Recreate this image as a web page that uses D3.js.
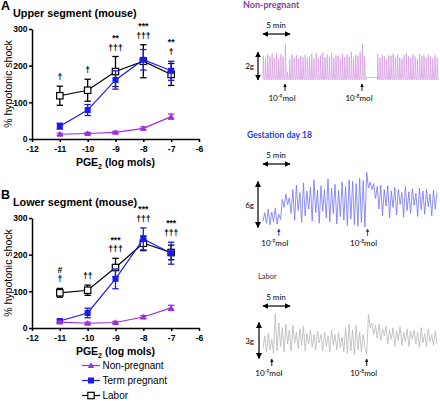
<!DOCTYPE html>
<html><head><meta charset="utf-8">
<script src="https://cdn.jsdelivr.net/npm/d3@7"></script>
<style>body{margin:0;background:#fff}svg{display:block}</style>
</head><body>
<script>
// ---------- data: dose-response ----------
const doses = [-11,-10,-9,-8,-7];
const xTicks = [-12,-11,-10,-9,-8,-7,-6];
const yTicks = [0,100,200,300];
const seriesNames = ["Non-pregnant","Term pregnant","Labor"];

const upperNonPreg    = [13,15,18,29,61];
const upperNonPregErr = [3,3,3,4,7];
const upperTerm       = [35,79,161,216,186];
const upperTermErr    = [8,15,25,28,26];
const upperLabor      = [118,133,184,212,176];
const upperLaborErr   = [26,30,41,45,30];
const upperStars      = ["","","**","***","**"];
const upperDaggers    = ["†","†","†††","†††","†"];

const lowerNonPreg    = [16,13,15,30,55];
const lowerNonPregErr = [3,3,3,4,7];
const lowerTerm       = [19,41,134,243,204];
const lowerTermErr    = [5,13,27,30,30];
const lowerLabor      = [96,103,165,231,206];
const lowerLaborErr   = [12,14,25,20,20];
const lowerStars      = ["#","","***","***","***"];
const lowerDaggers    = ["†","††","†††","†††","†††"];

// ---------- data: tension traces (grams) ----------
const npPeaks = [1.75,1.6,1.85,1.7,1.9,1.6,1.95,1.55,1.85,1.7,
  2.65,0.55,
  1.5,1.85,1.6,1.8,1.55,1.75,1.65,1.8,1.6,1.7,1.9,1.55,1.95,1.6,1.8,2.0,1.65,1.85,1.7,1.95,1.6,1.8,1.75,1.55,1.9,1.65,1.85,1.7,2.05,1.6,1.85,1.75,2.0,
  2.65,1.7,
  null,null,null,null,null,
  1.9,
  1.6,1.85,1.7,1.5,1.8,1.75,1.9,1.6,1.85,1.65,1.55,1.8,1.95,1.7,1.6,1.85,1.7,1.55,1.9,1.75,1.8,1.6,1.85,1.7,1.55,1.8,1.6];
const npDoseSlots = [10,45];
const npDoseLabels = ["-9","-8"];

const gestTrace = [0.8,1.9,0.5,2.4,0.3,2.0,0.7,2.5,0.4,1.7,
  1.0,3.7,2.6,4.4,3.0,3.9,
  1.8,5.0,0.9,5.6,2.2,4.6,0.6,5.9,1.5,4.8,2.4,5.3,0.8,6.3,1.9,4.9,0.5,5.5,2.1,5.0,1.2,6.4,0.7,5.2,1.8,5.7,0.4,4.9,1.4,6.0,0.9,5.4,0.2,6.3,1.1,6.1,0.3,5.8,0.1,6.5,0.6,6.2,0.0,7.3,
  5.2,6.0,5.0,5.8,3.8,5.4,2.4,5.6,1.5,5.0,2.8,5.5,1.2,4.8,2.6,5.3,1.6,5.0,3.0,4.6,1.3,5.4,2.2,4.7,1.8,5.1,2.9,4.5,1.4,5.2,2.3,4.8,1.7,5.0,2.7,4.4,1.5,4.9,2.4,4.6];
const gestDoseIdx = [9,59.5];
const gestDoseLabels = ["-9","-8"];

const laborTrace = [0.8,1.9,0.5,2.1,0.7,1.6,0.4,3.8,0.6,3.0,1.0,2.6,0.5,2.9,1.2,2.4,0.6,2.8,1.3,2.2,
  0.8,2.5,1.1,2.7,0.6,2.1,1.2,2.4,0.9,2.0,0.7,2.3,1.3,2.0,0.6,2.2,1.0,1.9,0.5,2.4,
  1.1,2.0,0.7,2.2,0.9,1.8,0.5,2.6,0.4,2.9,0.6,2.4,0.3,2.8,0.7,2.2,0.5,2.0,0.9,
  0.3,3.7,
  2.6,3.0,2.0,2.8,1.7,2.9,1.5,2.5,1.9,2.7,1.2,2.4,1.6,2.6,1.0,2.3,1.5,2.7,1.1,2.2,
  1.4,2.5,1.0,2.3,1.6,2.4,1.2,2.2,0.9,2.6,1.3,2.1,1.0,2.5,1.4,2.0,1.1,2.3,1.2];
const laborDoseIdx = [5,59];
const laborDoseLabels = ["-9","-8"];

// ---------- drawing ----------
const W=440,H=401;
const LF = "'Liberation Sans', Arial, sans-serif";
const svg = d3.select("body").append("svg").attr("width",W).attr("height",H)
  .attr("font-family",LF);
const colors = {np:"#9a2fe0", term:"#1a1af0", labor:"#000"};
const x = d3.scaleLinear().domain([-12,-6]).range([32,199]);

function sym(g, type, cx, cy, color){
  if(type==="tri"){
    g.append("path").attr("d",`M${cx},${cy-3.2}L${cx+3.2},${cy+2.4}L${cx-3.2},${cy+2.4}Z`).attr("fill",color);
  } else if(type==="sq"){
    g.append("rect").attr("x",cx-3).attr("y",cy-3).attr("width",6).attr("height",6).attr("fill",color);
  } else {
    g.append("rect").attr("x",cx-3.2).attr("y",cy-3.2).attr("width",6.4).attr("height",6.4)
      .attr("fill","#fff").attr("stroke",color).attr("stroke-width",1.2);
  }
}

function panel(cfg){
  const y = d3.scaleLinear().domain([0,300]).range([cfg.y0, cfg.y0-110]);
  const g = svg.append("g");
  g.append("text").attr("x",1).attr("y",cfg.y0-129).text(cfg.letter)
    .attr("font-size",12.5).attr("font-weight","bold");
  g.append("text").attr("x",13).attr("y",cfg.y0-122).text(cfg.title)
    .attr("font-size",10.8).attr("font-weight","bold");
  const xa = g.append("g").attr("transform",`translate(0,${cfg.y0})`)
    .call(d3.axisBottom(x).tickValues(xTicks).tickSize(3).tickPadding(3.5).tickSizeOuter(0).tickFormat(d=>String(d)));
  const ya = g.append("g").attr("transform",`translate(${x(-12)},0)`)
    .call(d3.axisLeft(y).tickValues(yTicks).tickSize(3).tickPadding(1.5).tickSizeOuter(0).tickFormat(d=>String(d)));
  [xa,ya].forEach(a=>{
    a.select(".domain").attr("stroke","#000").attr("stroke-width",1.5);
    a.selectAll(".tick line").attr("stroke","#000").attr("stroke-width",1.5);
    a.selectAll("text").attr("font-size",8.6).attr("font-weight","bold").attr("fill","#000")
      .attr("font-family",LF);
  });
  g.append("text").attr("transform",`translate(12,${cfg.y0-55}) rotate(-90)`)
    .attr("text-anchor","middle").attr("font-size",10.5).text("% hypotonic shock");
  const xl = g.append("text").attr("x",(x(-12)+x(-6))/2).attr("y",cfg.y0+27)
    .attr("text-anchor","middle").attr("font-size",10.5).attr("font-weight","bold");
  xl.append("tspan").text("PGE");
  xl.append("tspan").text("2").attr("font-size",7).attr("dy",2.5);
  xl.append("tspan").text(" (log mols)").attr("dy",-2.5);

  const line = d3.line().x((d,i)=>x(doses[i])).y(d=>y(d));
  cfg.series.forEach(s=>{
    const sg = g.append("g");
    sg.append("path").attr("d",line(s.v)).attr("fill","none").attr("stroke",s.c).attr("stroke-width",1.2);
    s.v.forEach((v,i)=>{
      const cx=x(doses[i]), t=y(v+s.e[i]), b=y(Math.max(0,v-s.e[i]));
      sg.append("line").attr("x1",cx).attr("x2",cx).attr("y1",t).attr("y2",b).attr("stroke",s.c).attr("stroke-width",1.3);
      [t,b].forEach(yy=>sg.append("line").attr("x1",cx-3.2).attr("x2",cx+3.2).attr("y1",yy).attr("y2",yy).attr("stroke",s.c).attr("stroke-width",1.3));
    });
    s.v.forEach((v,i)=>sym(sg,s.m,x(doses[i]),y(v),s.c));
  });
  // significance marks: stars line above dagger line
  const fs = 8.6;
  doses.forEach((d,i)=>{
    const top = d3.max(cfg.series, s=>s.v[i]+s.e[i]);
    const base = y(top)-6;
    g.append("text").attr("x",x(d)).attr("y",base).attr("text-anchor","middle")
      .attr("font-size",fs).attr("font-weight","bold").attr("fill","#000").text(cfg.daggers[i]);
    if(cfg.stars[i]){
      g.append("text").attr("x",x(d)).attr("y",base-9.8).attr("text-anchor","middle")
        .attr("font-size",fs).attr("font-weight","bold").attr("fill","#000").text(cfg.stars[i]);
    }
  });
}

panel({y0:139, letter:"A", title:"Upper segment (mouse)", stars:upperStars, daggers:upperDaggers,
  series:[
    {v:upperLabor,e:upperLaborErr,c:colors.labor,m:"open"},
    {v:upperTerm,e:upperTermErr,c:colors.term,m:"sq"},
    {v:upperNonPreg,e:upperNonPregErr,c:colors.np,m:"tri"}]});
panel({y0:328, letter:"B", title:"Lower segment (mouse)", stars:lowerStars, daggers:lowerDaggers,
  series:[
    {v:lowerLabor,e:lowerLaborErr,c:colors.labor,m:"open"},
    {v:lowerTerm,e:lowerTermErr,c:colors.term,m:"sq"},
    {v:lowerNonPreg,e:lowerNonPregErr,c:colors.np,m:"tri"}]});

// legend
const legMarks = ["tri","sq","open"], legCols=[colors.np,colors.term,colors.labor];
seriesNames.forEach((n,i)=>{
  const yy = 365.5 + i*15;
  svg.append("line").attr("x1",82).attr("x2",100).attr("y1",yy).attr("y2",yy).attr("stroke",legCols[i]).attr("stroke-width",1.2);
  sym(svg,legMarks[i],91,yy,legCols[i]);
  svg.append("text").attr("x",102.5).attr("y",yy+3.4).attr("font-size",10).text(n);
});

// ---------- traces ----------
const RF = "Lato, 'Open Sans', sans-serif";
svg.append("defs").html(`
 <marker id="ah" viewBox="0 0 10 10" refX="9" refY="5" markerWidth="5" markerHeight="5" orient="auto-start-reverse"><path d="M0,0L10,5L0,10Z" fill="#000"/></marker>
 <marker id="ahs" viewBox="0 0 10 10" refX="9" refY="5" markerWidth="4" markerHeight="4" orient="auto"><path d="M0,0L10,5L0,10Z" fill="#000"/></marker>
 <marker id="ahb" viewBox="0 0 10 10" refX="9" refY="5" markerWidth="4" markerHeight="4" orient="auto"><path d="M0,0L10,5L0,10Z" fill="#1f3f9f"/></marker>`);

function traceFrame(c){
  const g = svg.append("g").attr("font-family",RF);
  g.append("text").attr("x",c.tx).attr("y",c.ty).text(c.title).attr("fill",c.tc)
    .attr("font-size",c.ts).attr("font-weight",c.tw);
  g.append("text").attr("x",276).attr("y",c.minY).attr("text-anchor","middle").attr("font-size",8).text("5 min");
  g.append("line").attr("x1",263).attr("x2",290).attr("y1",c.minY+6).attr("y2",c.minY+6)
    .attr("stroke","#000").attr("stroke-width",1.2).attr("marker-start","url(#ah)").attr("marker-end","url(#ah)");
  g.append("line").attr("x1",c.barX).attr("x2",c.barX).attr("y1",c.ys(0)+0.5).attr("y2",c.ys(c.g)-0.5)
    .attr("stroke","#000").attr("stroke-width",1.2).attr("marker-start","url(#ah)").attr("marker-end","url(#ah)");
  g.append("text").attr("x",254).attr("y",(c.ys(0)+c.ys(c.g))/2+3).attr("text-anchor","end").attr("font-size",8)
    .text(c.g+"g");
  c.doseX.forEach((dx,i)=>{
    g.append("line").attr("x1",dx).attr("x2",dx).attr("y1",c.arY+7).attr("y2",c.arY)
      .attr("stroke",c.ac).attr("stroke-width",0.9).attr("marker-end",c.blue?"url(#ahb)":"url(#ahs)");
    const t = g.append("text").attr("x",dx+c.labOff).attr("y",c.arY+17).attr("text-anchor","middle").attr("font-size",8);
    t.append("tspan").text("10");
    t.append("tspan").text(c.labels[i]).attr("font-size",5).attr("dy",-3.5);
    t.append("tspan").text("mol").attr("dy",3.5);
  });
  return g;
}

// Non-pregnant
{
  const ys = d3.scaleLinear().domain([0,2]).range([79.5,52.5]);
  const xs = d3.scaleLinear().domain([0,npPeaks.length]).range([263,439]);
  const pts=[];
  npPeaks.forEach((v,i)=>{
    if(v===null){ pts.push([i,0.15],[i+1,0.15]); }
    else { pts.push([i,0],[i+0.15,v],[i+0.55,0],[i+1,0]); }
  });
  const g = traceFrame({tx:243,ty:8,title:"Non-pregnant",tc:"#8e3a9e",ts:9,tw:"bold",minY:28,barX:258,ys,g:2,
    doseX:npDoseSlots.map(s=>xs(s)),labels:npDoseLabels,arY:84,ac:"#000",labOff:-3});
  g.append("path").attr("d",d3.line().x(d=>xs(d[0])).y(d=>ys(d[1]))(pts))
    .attr("fill","none").attr("stroke","#d49ae0").attr("stroke-width",0.75);
}
// Gestation day 18
{
  const ys = d3.scaleLinear().domain([0,6]).range([227,182]);
  const xs = d3.scaleLinear().domain([0,gestTrace.length-1]).range([263,437]);
  const g = traceFrame({tx:247,ty:138,title:"Gestation day 18",tc:"#2a3ee0",ts:8.6,tw:"bold",minY:158,barX:258,ys,g:6,
    doseX:gestDoseIdx.map(s=>xs(s)),labels:gestDoseLabels,arY:229,ac:"#1f3f9f",blue:true,labOff:-4});
  g.append("path").attr("d",d3.line().x((d,i)=>xs(i)).y(d=>ys(d))(gestTrace))
    .attr("fill","none").attr("stroke","#7474f0").attr("stroke-width",0.8);
}
// Labor
{
  const ys = d3.scaleLinear().domain([0,3]).range([358,323]);
  const xs = d3.scaleLinear().domain([0,laborTrace.length-1]).range([263,437]);
  const g = traceFrame({tx:258,ty:279,title:"Labor",tc:"#333",ts:7.5,tw:"normal",minY:300,barX:259,ys,g:3,
    doseX:laborDoseIdx.map(s=>xs(s)),labels:laborDoseLabels,arY:359,ac:"#000",labOff:-3});
  g.append("path").attr("d",d3.line().x((d,i)=>xs(i)).y(d=>ys(d))(laborTrace))
    .attr("fill","none").attr("stroke","#b8b8b8").attr("stroke-width",0.8);
}
</script>
</body></html>
